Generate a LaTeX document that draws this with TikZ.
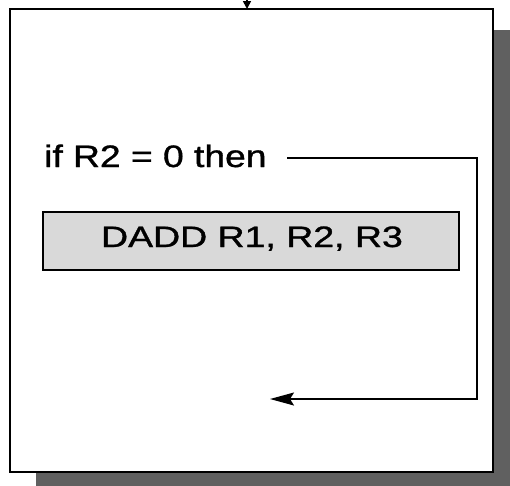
\documentclass[tikz,border=0pt]{standalone}
\usepackage{fontspec}
\setmainfont{Liberation Sans}
\newfontfamily\heavysans[FakeBold=1.0]{Liberation Sans}
\usetikzlibrary{arrows.meta}
\definecolor{shadowgray}{HTML}{606060}
\definecolor{boxgray}{HTML}{D9D9D9}
\tikzset{
  frame/.style={draw=black, line width=2.4pt, fill=white},
  instr/.style={draw=black, line width=1.6pt, fill=boxgray},
  flow/.style={draw=black, line width=1.6pt},
  lbl/.style={inner sep=0pt}
}
\begin{document}
\begin{tikzpicture}[x=1pt,y=-1pt]
\useasboundingbox (0,0) rectangle (510,485);
% shadow
\fill[shadowgray] (36,30) rectangle (515,490);
% main frame
\draw[frame] (10,9) rectangle (493,472);
% incoming arrow at top
\coordinate (topin) at (247,-2);
\coordinate (topend) at (247,9);
\draw[flow, -{Triangle[length=8pt,width=8pt]}] (topin) -- (topend);
% condition text
\node[lbl, anchor=base west, font=\heavysans\fontsize{31}{33}\selectfont] (cond) at (44,167) {\scalebox{1.2}[1]{if R2 = 0 then}};
% instruction box
\node[instr, minimum width=416pt, minimum height=58pt, inner sep=0pt] (dadd) at (251,241) {};
\node[lbl, anchor=base, font=\heavysans\fontsize{29.5}{31}\selectfont] (daddtxt) at (252,247) {\scalebox{1.27}[1]{DADD R1, R2, R3}};
% branch path
\coordinate (c1) at (287,158);
\coordinate (c2) at (477,158);
\coordinate (c3) at (477,399);
\coordinate (c4) at (270,399);
\draw[flow, -{Stealth[length=24pt,width=13pt,inset=4pt]}] (c1) -- (c2) -- (c3) -- (c4);
\end{tikzpicture}
\end{document}
